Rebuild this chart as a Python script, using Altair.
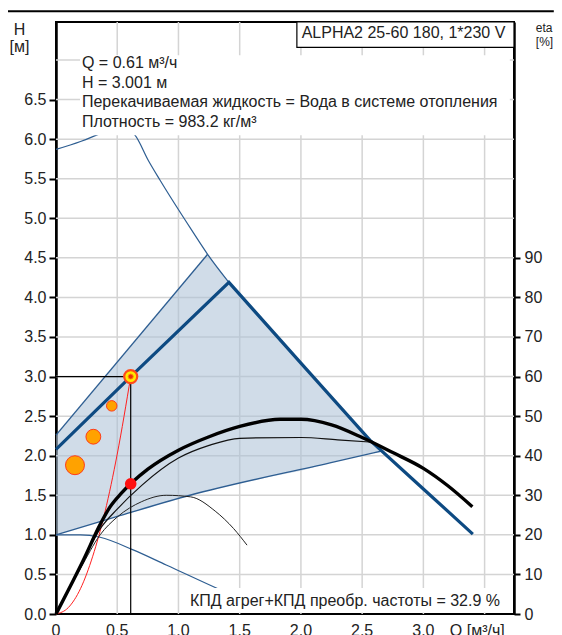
import altair as alt
import pandas as pd

# ---------------- data ----------------
# max pump curve (thin blue, top)
max_q = [0, 0.2, 0.345, 0.45, 0.55, 0.645, 0.754, 0.85, 1.108, 1.238, 1.412]
max_h = [5.87, 5.97, 6.06, 6.14, 6.14, 6.05, 5.73, 5.48, 4.85, 4.545, 4.19]
# upper proportional-pressure boundary (thin blue)
up_q = [0, 1.238]
up_h = [2.26, 4.545]
# selected proportional-pressure curve (thick blue)
pp_q = [0, 0.61, 1.412, 2.0, 2.563, 3.0, 3.404]
pp_h = [2.08, 3.0, 4.19, 3.17, 2.197, 1.58, 1.01]
# lower boundary (thin blue)
lo_q = [0, 0.495, 1.094, 2.237, 2.66]
lo_h = [1.0, 1.23, 1.50, 1.91, 2.06]
# min pump curve (thin blue)
min_q = [0, 0.2, 0.36, 0.63, 0.9, 1.35, 1.6]
min_h = [1.0, 1.0, 0.97, 0.81, 0.62, 0.30, 0.13]
# shaded control range
sh_q = [0, 0.495, 1.094, 1.238, 1.412, 2.0, 2.237, 2.563, 2.66]
sh_top = [2.26, 3.17, 4.28, 4.545, 4.19, 3.17, 2.76, 2.197, 2.06]
sh_bot = [1.0, 1.23, 1.50, 1.56, 1.63, 1.81, 1.91, 2.03, 2.06]
# system curve (red)
sys_q = [0, 0.1, 0.2, 0.3, 0.4, 0.5, 0.61]
sys_h = [0, 0.08, 0.32, 0.73, 1.29, 2.02, 3.0]
# efficiency curves, eta [%]
eff1_q = [0, 0.1, 0.223, 0.36, 0.44, 0.536, 0.75, 1.0, 1.25, 1.5, 1.83, 2.0, 2.25, 2.5, 2.75, 3.0, 3.2, 3.40]
eff1 = [0, 6, 13.6, 22.6, 27, 30.6, 36.6, 41.4, 44.8, 47.4, 49.2, 49.2, 47.8, 44.6, 40.8, 36.8, 32.4, 27.1]
eff2_q = [0, 0.2, 0.36, 0.5, 0.7, 1.0, 1.25, 1.5, 2.0, 2.3, 2.59]
eff2 = [0, 12, 21.5, 26.5, 32.5, 39.4, 42.6, 44.4, 44.6, 44.0, 43.4]
eff3_q = [0, 0.2, 0.36, 0.5, 0.7, 0.9, 1.1, 1.3, 1.45, 1.56]
eff3 = [0, 11.5, 20, 24.5, 28.4, 30, 29.6, 26, 21.6, 17.4]
# duty point
op_q = 0.61
op_h = 3.0
op_eta = 32.9
# orange setting markers
dot_q = [0.155, 0.305, 0.455]
dot_h = [1.88, 2.24, 2.63]
dot_size = [360, 220, 110]

info_lines = ["Q = 0.61 м³/ч", "H = 3.001 м",
              "Перекачиваемая жидкость = Вода в системе отопления",
              "Плотность = 983.2 кг/м³"]
info_h = [6.96, 6.71, 6.47, 6.22]
title_text = "ALPHA2 25-60 180, 1*230 V"
eff_text = "КПД агрег+КПД преобр. частоты = 32.9 %"
h_title = ["H", "[м]"]
eta_title = ["eta", "[%]"]

x_ticks = [0, 0.5, 1.0, 1.5, 2.0, 2.5, 3.0, 3.5]
x_labels = ["0", "0.5", "1.0", "1.5", "2.0", "2.5", "3.0", "Q [м³/ч]"]
h_ticks = [0, 0.5, 1.0, 1.5, 2.0, 2.5, 3.0, 3.5, 4.0, 4.5, 5.0, 5.5, 6.0, 6.5]
h_grid = [0.5, 1.0, 1.5, 2.0, 2.5, 3.0, 3.5, 4.0, 4.5, 5.0, 5.5, 6.0, 6.5, 7.0]
eta_ticks = [0, 10, 20, 30, 40, 50, 60, 70, 80, 90]
ETA_PER_H = 20  # right axis: 10 % per 0.5 m

# ---------------- styling ----------------
FONT = "Liberation Sans"
TXT = "#222222"
BLUE_THIN = "#2E5E92"
BLUE_THICK = "#0D4A82"
GRID = "#D4D4D4"
X_MAX, H_MAX = 3.74, 7.48

xs = alt.Scale(domain=[0, X_MAX], nice=False, zero=False)
ys = alt.Scale(domain=[0, H_MAX], nice=False, zero=False)

XN = lambda f="q": alt.X(f + ":Q", scale=xs, axis=None)
YN = lambda f="h": alt.Y(f + ":Q", scale=ys, axis=None)


def hline(q, h, color, width, interp="linear"):
    return alt.Chart(pd.DataFrame({"q": q, "h": h})).mark_line(
        color=color, strokeWidth=width, clip=False, interpolate=interp).encode(x=XN(), y=YN())


def eline(q, e, color, width):
    return alt.Chart(pd.DataFrame({"q": q, "e": e})).transform_calculate(
        h=f"datum.e / {ETA_PER_H}").mark_line(
        color=color, strokeWidth=width, interpolate="monotone").encode(x=XN(), y=YN())


def label(q, h, t, size=16, align="left"):
    return alt.Chart(pd.DataFrame({"q": q, "h": h, "t": t})).mark_text(
        align=align, baseline="middle", fontSize=size, font=FONT, color=TXT, clip=False).encode(
        x=XN(), y=YN(), text="t:N")


x_axis = alt.Axis(orient="bottom", values=x_ticks, labels=False, tickSize=6, tickWidth=2,
                  tickColor="black", domainColor="black", domainWidth=2.5,
                  grid=False, title=None)
y_axis = alt.Axis(orient="left", values=h_ticks, format=".1f", labelFontSize=16, labelColor=TXT,
                  labelFont=FONT, tickSize=7, tickWidth=2, tickColor="black", domainColor="black",
                  domainWidth=2.5, labelPadding=3, grid=False, title=None,
                  labelFlush=False, labelOverlap=False)
eta_axis = alt.Axis(orient="right", values=[v / ETA_PER_H for v in eta_ticks],
                    labelExpr=f"format(datum.value * {ETA_PER_H}, 'd')",
                    labelFontSize=16, labelColor=TXT, labelFont=FONT, tickSize=6, tickWidth=2,
                    tickColor="black", domainColor="black", domainWidth=2.5, labelPadding=4,
                    grid=False, title=None, labelFlush=False, labelOverlap=False)

# ---------------- layers ----------------
hgrid = alt.Chart(pd.DataFrame({"h": h_grid})).mark_rule(color=GRID, strokeWidth=1.5).encode(
    y=alt.Y("h:Q", scale=ys, axis=y_axis))
vgrid = alt.Chart(pd.DataFrame({"q": x_ticks[1:]})).mark_rule(color=GRID, strokeWidth=1.5).encode(
    x=alt.X("q:Q", scale=xs, axis=x_axis))
eta_holder = alt.Chart(pd.DataFrame({"e": eta_ticks})).transform_calculate(
    h=f"datum.e / {ETA_PER_H}").mark_point(opacity=0).encode(
    y=alt.Y("h:Q", scale=ys, axis=eta_axis))
shade = alt.Chart(pd.DataFrame({"q": sh_q, "t": sh_top, "b": sh_bot})).mark_area(
    color="#A9BFD6", opacity=0.55).encode(x=XN(), y=YN("t"), y2="b:Q")

cross_h = alt.Chart(pd.DataFrame({"q": [0], "q2": [op_q], "h": [op_h]})).mark_rule(
    color="black", strokeWidth=1.2).encode(x=XN(), x2="q2:Q", y=YN())
cross_v = alt.Chart(pd.DataFrame({"q": [op_q], "h": [0], "h2": [op_h]})).mark_rule(
    color="black", strokeWidth=1.2).encode(x=XN(), y=YN(), y2="h2:Q")

red_dot = alt.Chart(pd.DataFrame({"q": [op_q], "e": [op_eta]})).transform_calculate(
    h=f"datum.e / {ETA_PER_H}").mark_circle(color="#FF1010", size=135, opacity=1).encode(x=XN(), y=YN())

dots = alt.Chart(pd.DataFrame({"q": dot_q, "h": dot_h, "s": dot_size})).mark_circle(
    color="#FFA200", stroke="#FF3A1A", strokeWidth=1, opacity=1).encode(
    x=XN(), y=YN(), size=alt.Size("s:Q", scale=None, legend=None))
op_outer = alt.Chart(pd.DataFrame({"q": [op_q], "h": [op_h]})).mark_circle(
    color="#FFE800", stroke="#FF4A1A", strokeWidth=2.2, size=170, opacity=1).encode(x=XN(), y=YN())
op_inner = alt.Chart(pd.DataFrame({"q": [op_q], "h": [op_h]})).mark_circle(
    color="#E8300E", stroke="#FF9000", strokeWidth=1, size=26, opacity=1).encode(x=XN(), y=YN())

info_bg = alt.Chart(pd.DataFrame({"q": [0.196], "q2": [3.706], "h": [6.05], "h2": [7.06]})).mark_rect(
    color="white").encode(x=XN(), x2="q2:Q", y=YN(), y2="h2:Q")
eff_bg = alt.Chart(pd.DataFrame({"q": [1.06], "q2": [3.706], "h": [0.02], "h2": [0.33]})).mark_rect(
    color="white").encode(x=XN(), x2="q2:Q", y=YN(), y2="h2:Q")
title_box = alt.Chart(pd.DataFrame({"q": [1.967], "q2": [X_MAX], "h": [7.16], "h2": [H_MAX]})).mark_rect(
    color="white", stroke="black", strokeWidth=1.2).encode(x=XN(), x2="q2:Q", y=YN(), y2="h2:Q")

top_rule = alt.Chart(pd.DataFrame({"q": [-0.392], "q2": [4.065], "h": [7.617]})).mark_rule(
    color="black", strokeWidth=2).encode(x=XN(), x2="q2:Q", y=YN())

# x tick labels sit just below the axis (partly beyond the page edge, as in the original)
x_lbl_q = x_ticks[:-1] + [3.44]
x_lbl_h = [-0.215] * len(x_ticks)

chart = alt.layer(
    hgrid, vgrid, eta_holder, shade,
    hline(max_q, max_h, BLUE_THIN, 1.2, "monotone"),
    hline(up_q, up_h, BLUE_THIN, 1.4),
    hline(lo_q, lo_h, BLUE_THIN, 1.4, "monotone"),
    hline(min_q, min_h, BLUE_THIN, 1.2, "monotone"),
    hline(pp_q, pp_h, BLUE_THICK, 3.2),
    hline(sys_q, sys_h, "#FF2020", 1.0, "monotone"),
    cross_h, cross_v,
    eline(eff3_q, eff3, "#222222", 1.0),
    eline(eff2_q, eff2, "#111111", 1.2),
    eline(eff1_q, eff1, "#000000", 3.4),
    red_dot, dots, op_outer, op_inner,
    info_bg, eff_bg, title_box,
    label([0.212] * 4, info_h, info_lines),
    label([1.094], [0.165], [eff_text]),
    label([2.006], [7.336], [title_text]),
    label([-0.298, -0.298], [7.374, 7.159], h_title, 16, "center"),
    label([3.918, 3.918], [7.400, 7.222], eta_title, 12, "left"),
    label(x_lbl_q, x_lbl_h, x_labels, 16, "center"),
    top_rule,
).resolve_axis(y="independent").properties(
    width=458, height=592,
    padding={"left": 48, "top": 14, "right": 40, "bottom": 30},
    autosize=alt.AutoSizeParams(type="none"),
).configure(font=FONT).configure_view(stroke="black", strokeWidth=2)

chart.save("out.html", embed_options={"renderer": "svg", "actions": False})
